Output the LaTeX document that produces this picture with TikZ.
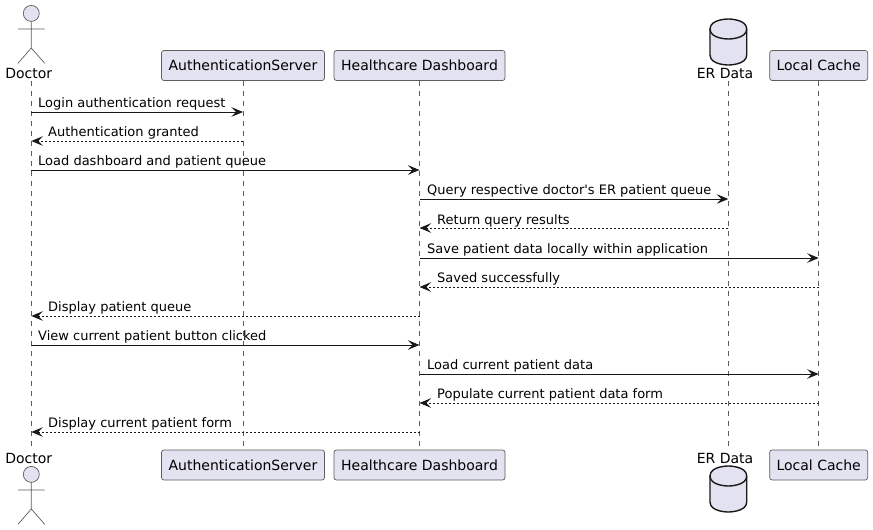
\documentclass[tikz,border=0pt]{standalone}
\usepackage{xcolor}
\usepackage{fontspec}
\setmainfont{DejaVu Sans}
\usetikzlibrary{arrows.meta}

\definecolor{partfill}{HTML}{E2E2F0}
\definecolor{partline}{HTML}{181818}

\tikzset{
  part/.style={draw=partline!70, line width=0.7pt, fill=partfill, rounded corners=2.5pt, minimum height=30pt, inner sep=0pt, font=\fontsize{14}{16}\selectfont},
  partname/.style={inner sep=0pt, anchor=base, font=\fontsize{14}{16}\selectfont},
  figure/.style={draw=partline!70, line width=0.7pt},
  dbline/.style={draw=partline, line width=1.4pt, fill=partfill},
  lifeline/.style={draw=partline!70, line width=0.6pt, dash pattern=on 5pt off 5pt},
  call/.style={draw=partline, line width=1pt, -{Stealth[length=11.5pt,width=9.5pt,inset=4.5pt]}},
  reply/.style={draw=partline, line width=1pt, dash pattern=on 2pt off 2pt, -{Stealth[length=11.5pt,width=9.5pt,inset=4.5pt]}},
  msg/.style={inner sep=0pt, anchor=base west, font=\fontsize{13}{15}\selectfont}
}

\begin{document}
\begin{tikzpicture}[x=1pt, y=-1pt]
\useasboundingbox (0,0) rectangle (873,530);

% lifeline ends
\coordinate (doctorT) at (31.3,81);
\coordinate (doctorB) at (31.3,449);
\coordinate (erT) at (728.3,81);
\coordinate (erB) at (728.3,449);

% participants, top row
\node[part, minimum width=163pt] (authT) at (243,65.5) {AuthenticationServer};
\node[part, minimum width=171pt] (dashT) at (419.5,65.5) {Healthcare Dashboard};
\node[part, minimum width=98pt] (cacheT) at (818.7,65.5) {Local Cache};
\node[partname] (doctorName) at (28.7,78) {Doctor};
\node[partname] (erName) at (725,78) {ER Data};

% participants, bottom row
\node[part, minimum width=163pt] (authB) at (243,465) {AuthenticationServer};
\node[part, minimum width=171pt] (dashB) at (419.5,465) {Healthcare Dashboard};
\node[part, minimum width=98pt] (cacheB) at (818.7,465) {Local Cache};
\node[partname] (doctorNameB) at (28.7,463) {Doctor};
\node[partname] (erNameB) at (725,463) {ER Data};

% lifelines
\draw[lifeline] (doctorT) -- (doctorB);
\draw[lifeline] (authT) -- (authB);
\draw[lifeline] (dashT) -- (dashB);
\draw[lifeline] (erT) -- (erB);
\draw[lifeline] (cacheT) -- (cacheB);

% doctor figure
\draw[figure, fill=partfill] (31.3,13.4) circle (8pt);
\draw[figure] (31.3,21.4) -- (31.3,48) (18,29) -- (44.7,29) (18,63.3) -- (31.3,48) -- (44.7,63.3);
\draw[figure, fill=partfill] (31.3,474.4) circle (8pt);
\draw[figure] (31.3,482.4) -- (31.3,509) (18,490) -- (44.7,490) (18,524.3) -- (31.3,509) -- (44.7,524.3);

% database
\draw[dbline] (710,29) .. controls (710,19) and (728.3,19) .. (728.3,19) .. controls (728.3,19) and (746.7,19) .. (746.7,29) -- (746.7,55) .. controls (746.7,65) and (728.3,65) .. (728.3,65) .. controls (728.3,65) and (710,65) .. (710,55) -- cycle;
\draw[dbline, fill=none] (710,29) .. controls (710,39) and (728.3,39) .. (728.3,39) .. controls (728.3,39) and (746.7,39) .. (746.7,29);
\draw[dbline] (710,476) .. controls (710,466) and (728.3,466) .. (728.3,466) .. controls (728.3,466) and (746.7,466) .. (746.7,476) -- (746.7,502) .. controls (746.7,512) and (728.3,512) .. (728.3,512) .. controls (728.3,512) and (710,512) .. (710,502) -- cycle;
\draw[dbline, fill=none] (710,476) .. controls (710,486) and (728.3,486) .. (728.3,486) .. controls (728.3,486) and (746.7,486) .. (746.7,476);

% messages
\draw[call] (doctorT |- 0,112) -- (authT |- 0,112);
\node[msg] (m1) at (38,107) {Login authentication request};
\draw[reply] (authT |- 0,141) -- (doctorT |- 0,141);
\node[msg] (m2) at (48,136) {Authentication granted};
\draw[call] (doctorT |- 0,170) -- (dashT |- 0,170);
\node[msg] (m3) at (38,165) {Load dashboard and patient queue};
\draw[call] (dashT |- 0,199) -- (erT |- 0,199);
\node[msg] (m4) at (427,194) {Query respective doctor\textquotesingle s ER patient queue};
\draw[reply] (erT |- 0,228) -- (dashT |- 0,228);
\node[msg] (m5) at (437,224) {Return query results};
\draw[call] (dashT |- 0,258) -- (cacheT |- 0,258);
\node[msg] (m6) at (427,253) {Save patient data locally within application};
\draw[reply] (cacheT |- 0,287) -- (dashT |- 0,287);
\node[msg] (m7) at (437,282) {Saved successfully};
\draw[reply] (dashT |- 0,316) -- (doctorT |- 0,316);
\node[msg] (m8) at (48,311) {Display patient queue};
\draw[call] (doctorT |- 0,345) -- (dashT |- 0,345);
\node[msg] (m9) at (38,340) {View current patient button clicked};
\draw[call] (dashT |- 0,374) -- (cacheT |- 0,374);
\node[msg] (m10) at (427,369) {Load current patient data};
\draw[reply] (cacheT |- 0,403) -- (dashT |- 0,403);
\node[msg] (m11) at (437,398) {Populate current patient data form};
\draw[reply] (dashT |- 0,432) -- (doctorT |- 0,432);
\node[msg] (m12) at (48,427) {Display current patient form};

\end{tikzpicture}
\end{document}
